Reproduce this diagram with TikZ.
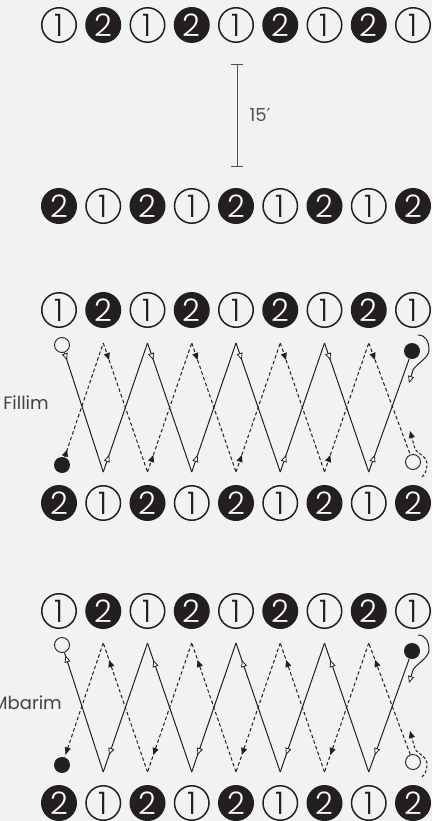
\documentclass[tikz,border=0pt]{standalone}
\usepackage{fontspec}
\setmainfont{Poppins}
\newfontfamily\digitfont{Poppins Light}
\newfontfamily\primefont{DejaVu Sans}
\usetikzlibrary{arrows.meta,decorations.markings,positioning}
\definecolor{paper}{RGB}{241,242,244}
\definecolor{ink}{RGB}{35,31,32}
\definecolor{rule}{RGB}{80,80,80}

\begin{document}
\begin{tikzpicture}[
    x=1pt, y=-1pt,
    one/.style={circle, draw=ink, line width=1.5pt, fill=paper, text=ink,
                minimum size=34.5pt, inner sep=0pt,
                font=\digitfont\fontsize{31}{31}\selectfont},
    two/.style={one, fill=ink, text=white},
    ring/.style={circle, draw=ink, line width=0.9pt, fill=paper,
                 minimum size=15pt, inner sep=0pt},
    dot/.style={circle, fill=ink, minimum size=16pt, inner sep=0pt},
    walk/.style={draw=ink, line width=1pt,
                 postaction={decorate, decoration={markings,
                   mark=at position #1 with {\arrow{Triangle[fill=white, length=7pt, width=6pt, line width=0.8pt]}}}}},
    jog/.style={draw=ink, line width=1pt, dash pattern=on 3.5pt off 2.5pt,
                postaction={decorate, decoration={markings,
                   mark=at position #1 with {\arrow{Triangle[length=7pt, width=6pt]}}}}},
    turn/.style={draw=ink, line width=1pt,
                 -{Triangle[fill=white, length=7pt, width=6pt, line width=0.8pt]}},
    turnback/.style={draw=ink, line width=1pt, dash pattern=on 3pt off 2pt,
                     -{Triangle[length=7pt, width=6pt]}},
    measure/.style={draw=rule, line width=0.9pt, {Bar[width=12pt]}-{Bar[width=12pt]}},
    caption/.style={text=ink!85, font=\fontsize{18}{20}\selectfont}
]

\useasboundingbox (0,0) rectangle (432,821);
\fill[paper] (0,0) rectangle (432,821);

% Rows of players and zigzag corners
\foreach \i in {0,...,8} {
    \ifodd\i
        \node[two] (a\i) at (59+44.25*\i,25) {2};
        \node[one] (b\i) at (59+44.25*\i,206) {1};
        \node[two] (fa\i) at (59+44.25*\i,310) {2};
        \node[one] (fb\i) at (59+44.25*\i,503) {1};
        \node[two] (ma\i) at (59+44.25*\i,611) {2};
        \node[one] (mb\i) at (59+44.25*\i,803) {1};
    \else
        \node[one] (a\i) at (59+44.25*\i,25) {1};
        \node[two] (b\i) at (59+44.25*\i,206) {2};
        \node[one] (fa\i) at (59+44.25*\i,310) {1};
        \node[two] (fb\i) at (59+44.25*\i,503) {2};
        \node[one] (ma\i) at (59+44.25*\i,611) {1};
        \node[two] (mb\i) at (59+44.25*\i,803) {2};
    \fi
    \coordinate (fT\i) at (59+44.25*\i,343);
    \coordinate (fB\i) at (59+44.25*\i,472);
    \coordinate (mT\i) at (59+44.25*\i,643);
    \coordinate (mB\i) at (59+44.25*\i,772);
}

% Distance between the two rows
\coordinate (gaptop) at (237,64);
\coordinate (gapbot) at (237,167);
\draw[measure] (gaptop) -- (gapbot);
\node[anchor=west, text=rule, font=\fontsize{18}{20}\selectfont] (gap) at (246,115) {15{\primefont ′}};

% Fillim
\node[caption] (fillim) at (26,403) {Fillim};
\node[ring] (fstart) at (62,345) {};
\node[dot] (fback) at (62,465) {};
\node[dot] (fturn) at (412,351) {};
\node[ring] (fhome) at (413,462) {};

\draw[walk=8pt] (fstart) -- (fB1);
\foreach \a/\b in {B1/T2, T2/B3, B3/T4, T4/B5, B5/T6, T6/B7}
    \draw[walk=18pt] (f\a) -- (f\b);
\draw[walk=18pt] (fB7) -- (fturn);

\draw[jog=8pt] (fback) -- (fT1);
\foreach \a/\b in {T1/B2, B2/T3, T3/B4, B4/T5, T5/B6, B6/T7}
    \draw[jog=18pt] (f\a) -- (f\b);
\draw[jog=18pt] (fT7) -- (fhome);

\draw[turn] ([shift={(6,-16)}]fturn.center) .. controls +(8,0) and +(0,-8) .. ([shift={(17,-1)}]fturn.center)
    .. controls +(0,8) and +(3,-6) .. ([shift={(1,19)}]fturn.center) -- ([shift={(-3,32)}]fturn.center);
\draw[turnback] ([shift={(9,15)}]fhome.center) .. controls +(4,-3) and +(0,5) .. ([shift={(14,1)}]fhome.center)
    .. controls +(0,-6) and +(2,4) .. ([shift={(2,-13)}]fhome.center) -- ([shift={(-3,-31)}]fhome.center);

% Mbarim
\node[caption] (mbarim) at (27,703) {Mbarim};
\node[ring] (mstart) at (62,645) {};
\node[dot] (mback) at (62,765) {};
\node[dot] (mturn) at (412,651) {};
\node[ring] (mhome) at (413,762) {};

\draw[walk=-3pt] (mB1) -- (mstart);
\foreach \a/\b in {B1/T2, T2/B3, B3/T4, T4/B5, B5/T6, T6/B7}
    \draw[walk=-18pt] (m\b) -- (m\a);
\draw[walk=-18pt] (mturn) -- (mB7);

\draw[jog=-3pt] (mT1) -- (mback);
\foreach \a/\b in {T1/B2, B2/T3, T3/B4, B4/T5, T5/B6, B6/T7}
    \draw[jog=-18pt] (m\b) -- (m\a);
\draw[jog=-18pt] (mhome) -- (mT7);

\draw[turn] ([shift={(6,-16)}]mturn.center) .. controls +(8,0) and +(0,-8) .. ([shift={(17,-1)}]mturn.center)
    .. controls +(0,8) and +(3,-6) .. ([shift={(1,19)}]mturn.center) -- ([shift={(-3,32)}]mturn.center);
\draw[turnback] ([shift={(9,15)}]mhome.center) .. controls +(4,-3) and +(0,5) .. ([shift={(14,1)}]mhome.center)
    .. controls +(0,-6) and +(2,4) .. ([shift={(2,-13)}]mhome.center) -- ([shift={(-3,-31)}]mhome.center);

\end{tikzpicture}
\end{document}
